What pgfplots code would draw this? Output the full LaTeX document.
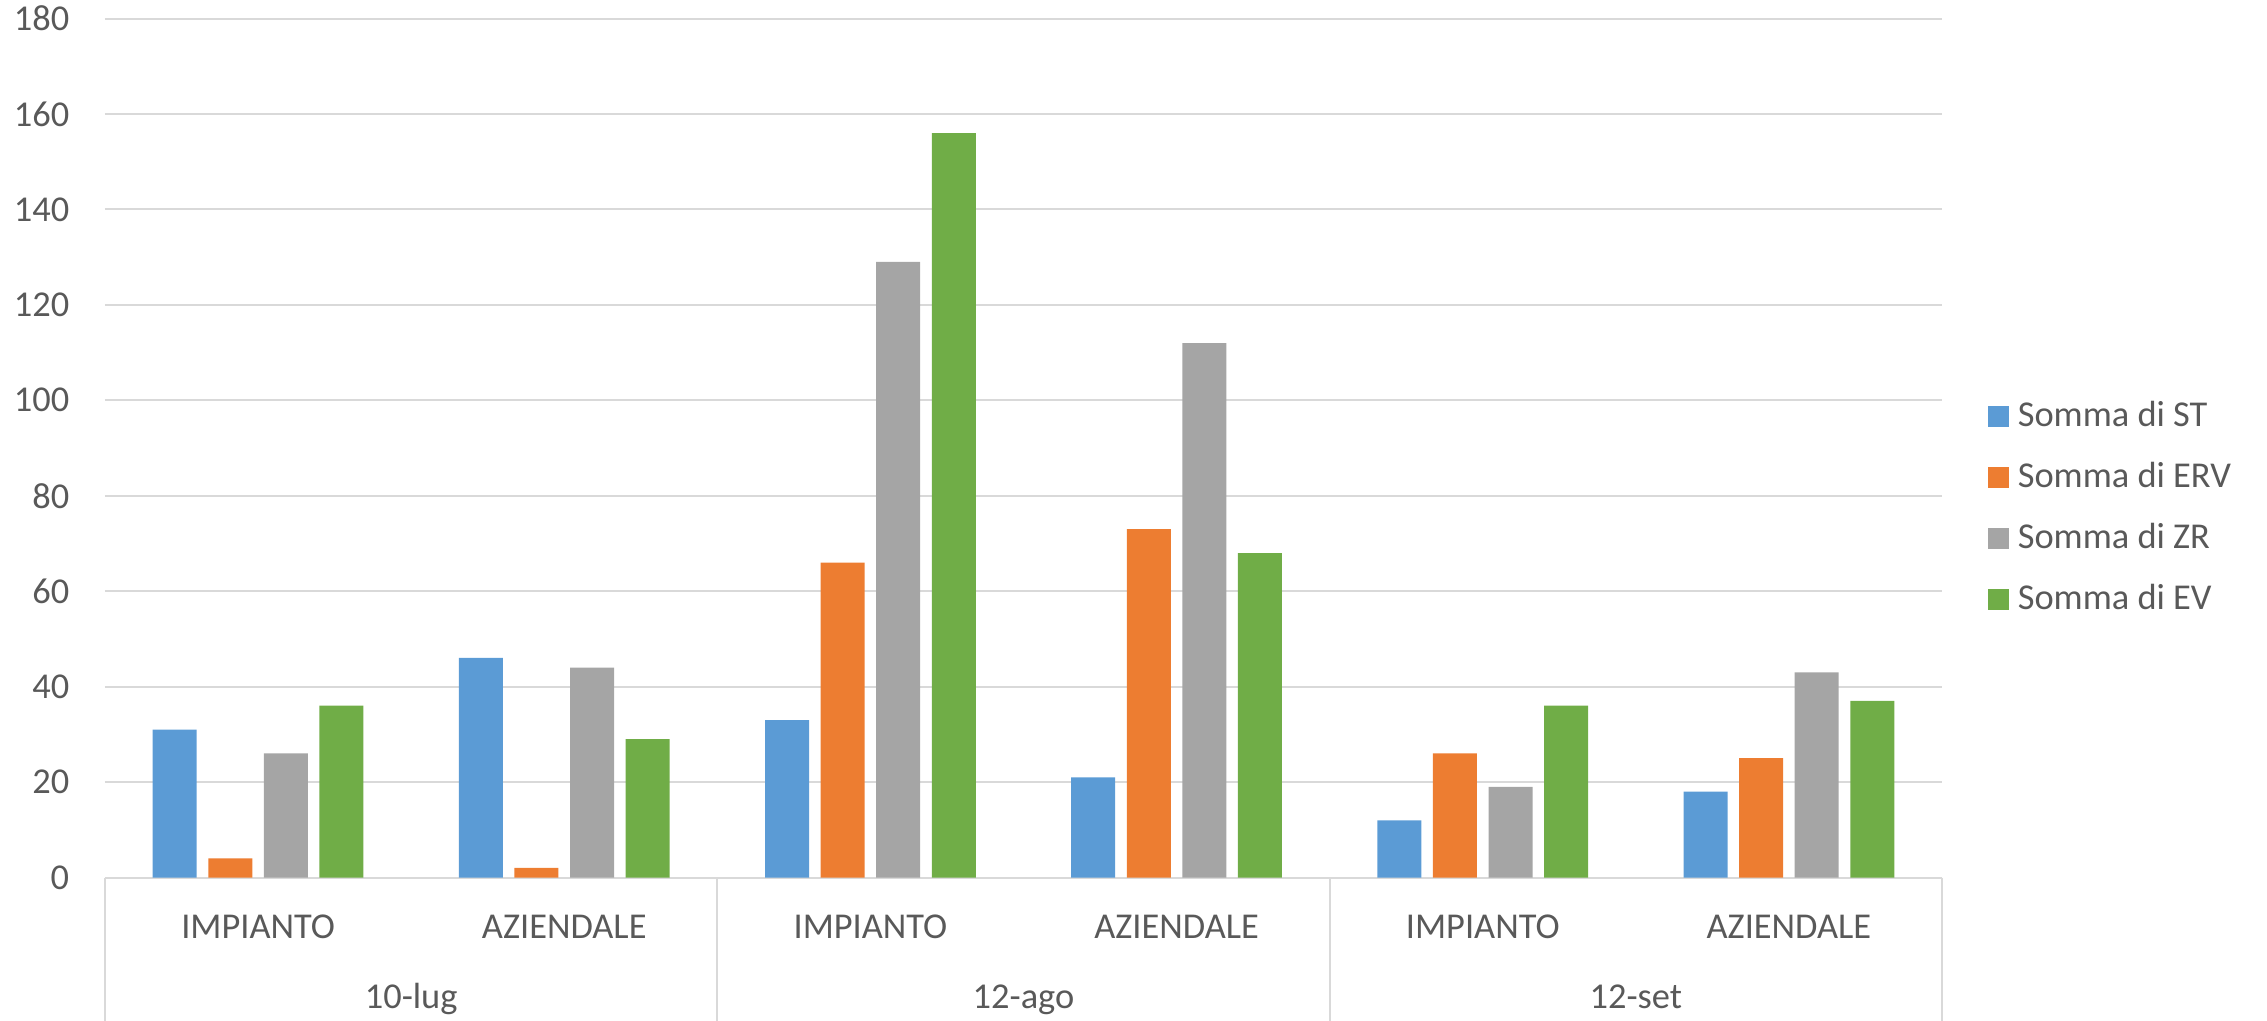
\documentclass[border=0pt]{standalone}
\usepackage{fontspec}
\setmainfont{Carlito}
\usepackage{pgfplots}
\pgfplotsset{compat=1.18}
\definecolor{cST}{HTML}{5B9BD5}
\definecolor{cERV}{HTML}{ED7D31}
\definecolor{cZR}{HTML}{A5A5A5}
\definecolor{cEV}{HTML}{70AD47}
\definecolor{gridc}{HTML}{D9D9D9}
\definecolor{txt}{HTML}{595959}
\newcommand\lab{\fontsize{9.1pt}{11pt}\selectfont}
\pgfplotsset{legsq/.style={legend image code/.code={\fill[##1,draw=none] (0pt,-3pt) rectangle (5.2pt,2.2pt); \path (7.45pt,0pt);}}}
\begin{document}
\begin{tikzpicture}
\useasboundingbox (0,0) rectangle (566.75pt,255pt);
\begin{axis}[
  at={(26.25pt,35.625pt)}, anchor=south west,
  scale only axis, width=459.25pt, height=214.75pt,
  xmin=-0.5, xmax=5.5, ymin=0, ymax=180,
  ybar, bar width=11pt,
  xtick={0,1,2,3,4,5},
  xticklabels={IMPIANTO,AZIENDALE,IMPIANTO,AZIENDALE,IMPIANTO,AZIENDALE},
  ytick={0,20,...,180},
  ymajorgrids, grid style={gridc, line width=0.5pt},
  axis line style={draw=none},
  major tick length=0pt,
  clip=false,
  /pgf/number format/assume math mode=true,
  tick label style={font=\lab, text=txt, inner sep=0pt},
  yticklabel style={anchor=east, xshift=-8.75pt},
  xticklabel style={anchor=base, yshift=-15.125pt},
  legend style={draw=none, fill=none, inner sep=0pt, outer sep=0pt,
    anchor=north west, at={(1.02504,0.5527)}, row sep=9.25pt,
    nodes={inner sep=0pt, text height=6pt, text depth=0pt, font=\lab, text=txt}},
  legend cell align=left,
]
\addplot[fill=cST, draw=none, bar shift=-20.85pt, legsq] coordinates {(0,31) (1,46) (2,33) (3,21) (4,12) (5,18)};
\addplot[fill=cERV, draw=none, bar shift=-6.95pt, legsq] coordinates {(0,4) (1,2) (2,66) (3,73) (4,26) (5,25)};
\addplot[fill=cZR, draw=none, bar shift=6.95pt, legsq] coordinates {(0,26) (1,44) (2,129) (3,112) (4,19) (5,43)};
\addplot[fill=cEV, draw=none, bar shift=20.85pt, legsq] coordinates {(0,36) (1,29) (2,156) (3,68) (4,36) (5,37)};
\legend{Somma di ST, Somma di ERV, Somma di ZR, Somma di EV}
\draw[gridc, line width=0.5pt] (axis cs:-0.5,0) -- ++(0pt,-40pt);
\draw[gridc, line width=0.5pt] (axis cs:1.5,0) -- ++(0pt,-40pt);
\draw[gridc, line width=0.5pt] (axis cs:3.5,0) -- ++(0pt,-40pt);
\draw[gridc, line width=0.5pt] (axis cs:5.5,0) -- ++(0pt,-40pt);
\node[anchor=base, font=\lab, text=txt, inner sep=0pt, yshift=-32.625pt] at (axis cs:0.5,0) {10-lug};
\node[anchor=base, font=\lab, text=txt, inner sep=0pt, yshift=-32.625pt] at (axis cs:2.5,0) {12-ago};
\node[anchor=base, font=\lab, text=txt, inner sep=0pt, yshift=-32.625pt] at (axis cs:4.5,0) {12-set};
\end{axis}
\end{tikzpicture}
\end{document}
